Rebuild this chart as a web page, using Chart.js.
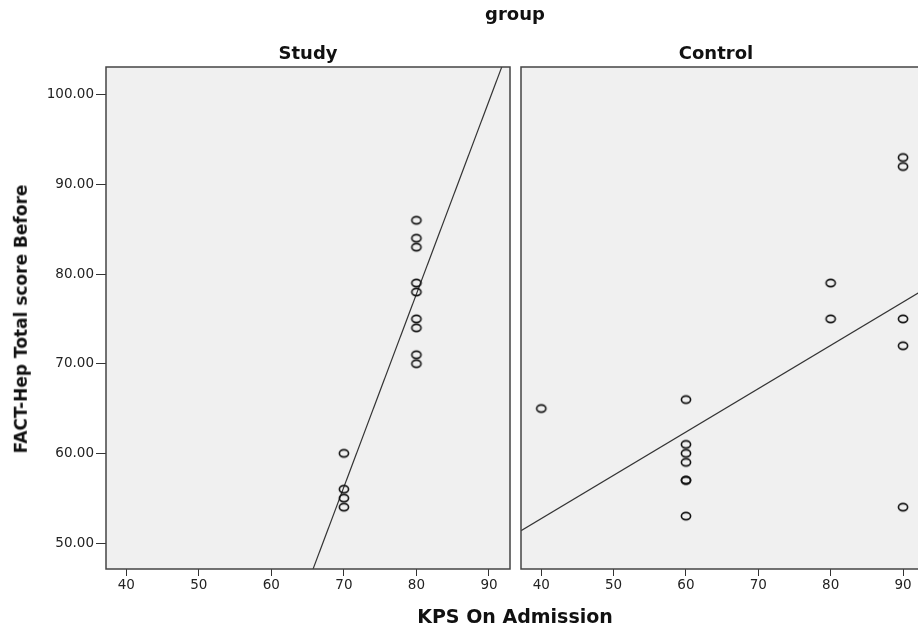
<!DOCTYPE html>
<html>
<head>
<meta charset="utf-8">
<script src="https://cdn.jsdelivr.net/npm/chart.js@4"></script>
<style>
body{margin:0;width:918px;height:630px;overflow:hidden;background:#fff;position:relative;font-family:"DejaVu Sans",sans-serif}
canvas{position:absolute;top:0}
#left{left:0}
#right{left:515px}
.lbl{position:absolute;font-weight:bold;color:#111;white-space:nowrap;line-height:1.2;transform:translate(-50%,-50%)}
</style>
</head>
<body>
<canvas id="left" width="516" height="630"></canvas>
<canvas id="right" width="415" height="630"></canvas>
<div class="lbl" style="left:515px;top:14px;font-size:18px">group</div>
<div class="lbl" style="left:308px;top:53px;font-size:18px">Study</div>
<div class="lbl" style="left:716px;top:53px;font-size:18px">Control</div>
<div class="lbl" style="left:515px;top:616px;font-size:19px">KPS On Admission</div>
<div class="lbl" style="left:21px;top:319px;font-size:17px;transform:translate(-50%,-50%) rotate(-90deg)">FACT-Hep Total score Before</div>
<script>
// ticks and axis ranges
const xTicks = [40, 50, 60, 70, 80, 90];
const yTicks = [50, 60, 70, 80, 90, 100];
const xMin = 37.2, xMax = 92.9;
const yMin = 47.1, yMax = 103.1;

// Study group
const studyKps  = [70, 70, 70, 70, 80, 80, 80, 80, 80, 80, 80, 80, 80];
const studyFact = [60, 56, 55, 54, 86, 84, 83, 79, 78, 75, 74, 71, 70];

// Control group
const controlKps  = [40, 60, 60, 60, 60, 60, 60, 60, 80, 80, 90, 90, 90, 90, 90];
const controlFact = [65, 66, 61, 60, 59, 57, 57, 53, 79, 75, 93, 92, 75, 72, 54];

Chart.defaults.font.family = '"DejaVu Sans", sans-serif';

// open elliptical marker like the SPSS output
const marker = document.createElement('canvas');
marker.width = 14; marker.height = 12;
(function(){
  const c = marker.getContext('2d');
  c.strokeStyle = '#111';
  c.lineWidth = 1.6;
  c.beginPath();
  c.ellipse(7, 6, 4.6, 3.6, 0, 0, Math.PI*2);
  c.stroke();
})();

// least squares fit line, returned as two points at the axis ends
function fitLine(xs, ys){
  const n = xs.length;
  const mx = xs.reduce((a,b)=>a+b,0)/n, my = ys.reduce((a,b)=>a+b,0)/n;
  let sxy = 0, sxx = 0;
  xs.forEach((x,i)=>{ sxy += (x-mx)*(ys[i]-my); sxx += (x-mx)*(x-mx); });
  const b = sxy/sxx, a = my - b*mx;
  return [{x:xMin, y:a+b*xMin}, {x:xMax, y:a+b*xMax}];
}

const panelBox = {
  id:'panelBox',
  beforeDraw(chart){
    const {ctx, chartArea:c} = chart;
    ctx.save();
    ctx.fillStyle = '#f0f0f0';
    ctx.fillRect(c.left, c.top, c.right-c.left, c.bottom-c.top);
    ctx.restore();
  },
  afterDraw(chart){
    const {ctx, chartArea:c} = chart;
    ctx.save();
    ctx.strokeStyle = '#444';
    ctx.lineWidth = 1.5;
    ctx.strokeRect(c.left, c.top, c.right-c.left, c.bottom-c.top);
    ctx.restore();
  }
};

function makePanel(id, xs, ys, showY, pad){
  const pts = xs.map((x,i)=>({x:x, y:ys[i]}));
  return new Chart(document.getElementById(id), {
    type:'scatter',
    data:{datasets:[
      {data:pts, showLine:false, pointStyle:marker, pointRadius:5, pointHoverRadius:5},
      {type:'line', data:fitLine(xs, ys), borderColor:'#333', borderWidth:1.2, pointRadius:0, clip:0}
    ]},
    options:{
      responsive:false, animation:false,
      layout:{padding:pad},
      plugins:{legend:{display:false}, tooltip:{enabled:false}},
      scales:{
        x:{type:'linear', min:xMin, max:xMax,
           afterBuildTicks:s=>{ s.ticks = xTicks.map(v=>({value:v})); },
           afterFit:s=>{ s.height = 61; },
           grid:{drawOnChartArea:false, drawTicks:true, tickLength:7, color:'#333'},
           border:{display:false},
           ticks:{color:'#222', font:{size:13.5}, padding:1, maxRotation:0}},
        y:{type:'linear', min:yMin, max:yMax, display:showY,
           afterBuildTicks:s=>{ s.ticks = yTicks.map(v=>({value:v})); },
           afterFit:s=>{ if(showY) s.width = 106; },
           grid:{drawOnChartArea:false, drawTicks:true, tickLength:10, color:'#333'},
           border:{display:false},
           ticks:{color:'#222', font:{size:13.5}, padding:2,
                  callback:v=>Number(v).toFixed(2)}}
      }
    },
    plugins:[panelBox]
  });
}

makePanel('left', studyKps, studyFact, true, {top:67, left:0, right:6, bottom:0});
makePanel('right', controlKps, controlFact, false, {top:67, left:6, right:5, bottom:0});
</script>
</body>
</html>
